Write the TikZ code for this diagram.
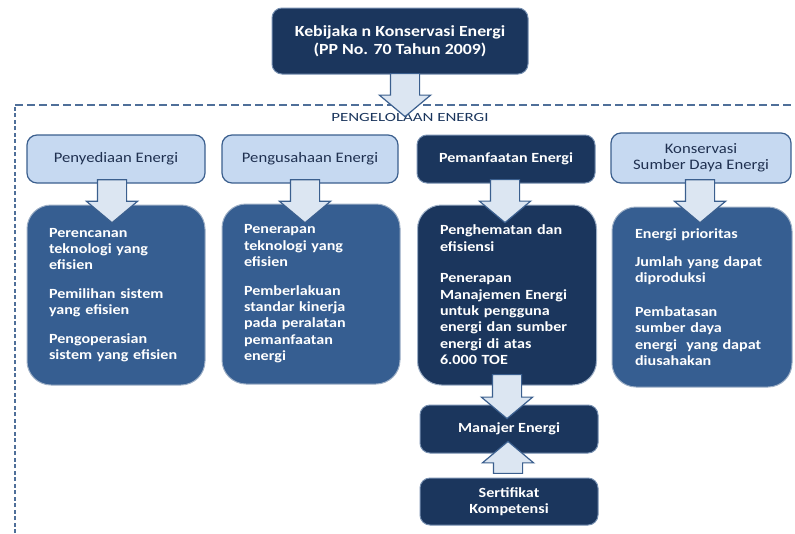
\documentclass[tikz,border=0pt]{standalone}
\usepackage{fontspec}
\setmainfont{Carlito}[FakeStretch=1.15]
\usepackage{tikz}
\usetikzlibrary{calc,shapes.arrows}
\definecolor{navy}{HTML}{1B365D}
\definecolor{midblue}{HTML}{365E91}
\definecolor{paleblue}{HTML}{C6D9F1}
\definecolor{rimblue}{HTML}{3B5F8E}
\definecolor{arrowfill}{HTML}{DCE6F2}
\definecolor{darktext}{HTML}{1F3050}

\begin{document}
\begin{tikzpicture}[
  x=1pt,y=-1pt,
  darkbox/.style={draw=rimblue!70,line width=1pt,fill=navy,rounded corners=10pt,text=white,
    font=\bfseries\fontsize{14}{16}\selectfont,align=center,minimum width=178pt,minimum height=48pt,inner sep=0pt},
  palebox/.style={draw=rimblue,line width=1.2pt,fill=paleblue,rounded corners=10pt,text=darktext,
    font=\fontsize{14.5}{16.5}\selectfont,align=center,minimum width=178pt,minimum height=48pt,inner sep=0pt},
  listbox/.style={fill=#1,draw=rimblue!50,line width=1pt,rounded corners=24pt,text=white,
    font=\bfseries\fontsize{14}{16.4}\selectfont,align=left,text width=134pt,minimum width=178pt,
    minimum height=180pt,inner sep=0pt},
  bigarrow/.style={single arrow,draw=rimblue,line width=1.2pt,fill=arrowfill,minimum width=50pt,
    single arrow head extend=11pt,single arrow tip angle=100,shape border rotate=#1,inner sep=0pt},
  frame/.style={draw=rimblue!90,line width=1.3pt}
  ]
\def\gap{\\[12pt]}
\def\shaft{\rule{28pt}{0pt}}
\useasboundingbox (0,0) rectangle (795,533);
% policy at the top
\node[darkbox,minimum width=256pt,minimum height=66pt,font=\bfseries\fontsize{15.5}{18}\selectfont]
  (kb) at (400,41) {Kebijaka n Konservasi Energi\\(PP No. 70 Tahun 2009)};
% dashed frame
\coordinate (fbl) at (15,533);
\coordinate (ftl) at (15,105);
\coordinate (ftr) at (795,105);
\draw[frame,dash pattern=on 4pt off 2.5pt] (fbl) -- (ftl);
\draw[frame,dash pattern=on 8pt off 4pt] (ftl) -- (ftr);
\node[text=navy,font=\fontsize{12.5}{15}\selectfont\addfontfeature{FakeStretch=1.35}] (pe) at (410,117) {PENGELOLAAN ENERGI};
% four headings
\node[palebox] (hd1) at (116,159) {Penyediaan Energi};
\node[palebox,minimum width=176pt] (hd2) at (310,159) {Pengusahaan Energi};
\node[darkbox] (hd3) at (506,159) {Pemanfaatan Energi};
\node[palebox,minimum width=180pt,minimum height=50pt] (hd4) at (701,158) {Konservasi\\Sumber Daya Energi};
% lists below the headings
\node[listbox=midblue] (ct1) at (116,295) {Perencanan\\teknologi yang\\efisien\gap
  Pemilihan sistem\\yang efisien\gap Pengoperasian\\sistem yang efisien};
\node[listbox=midblue] (ct2) at (311,294) {Penerapan\\teknologi yang\\efisien\gap
  Pemberlakuan\\standar kinerja\\pada peralatan\\pemanfaatan\\energi};
\node[listbox=navy,minimum width=179pt] (ct3) at (507,295) {Penghematan dan\\efisiensi\\[15pt]
  Penerapan\\Manajemen Energi\\untuk pengguna\\energi dan sumber\\energi di atas\\6.000 TOE};
\node[listbox=midblue,minimum width=180pt] (ct4) at (702,297) {Energi prioritas\gap
  Jumlah yang dapat\\diproduksi\\[17pt] Pembatasan\\sumber daya\\energi \ yang dapat\\diusahakan};
% energy manager and certificate
\node[darkbox] (mgr) at (509,429) {Manajer Energi};
\node[darkbox,minimum height=47pt] (crt) at (509,501.5) {Sertifikat\\Kompetensi};
% block arrows
\node[bigarrow=270,minimum height=43pt] (a0) at ($(kb.south)+(5,14.5)$) {\shaft};
\node[bigarrow=270,minimum height=43pt] (a1) at ($(hd1.south)+(-4,11.5)$) {\shaft};
\node[bigarrow=270,minimum height=43pt] (a2) at ($(hd2.south)+(-5,11.5)$) {\shaft};
\node[bigarrow=270,minimum height=43pt] (a3) at ($(hd3.south)+(-1,11.5)$) {\shaft};
\node[bigarrow=270,minimum height=43pt] (a4) at ($(hd4.south)+(-1,11.5)$) {\shaft};
\node[bigarrow=270,minimum height=44pt] (a5) at ($(ct3.south)+(0,5)$) {\shaft};
\node[bigarrow=90,minimum height=32pt] (a6) at ($(crt.north)+(-1,-14)$) {\shaft};
\end{tikzpicture}
\end{document}
